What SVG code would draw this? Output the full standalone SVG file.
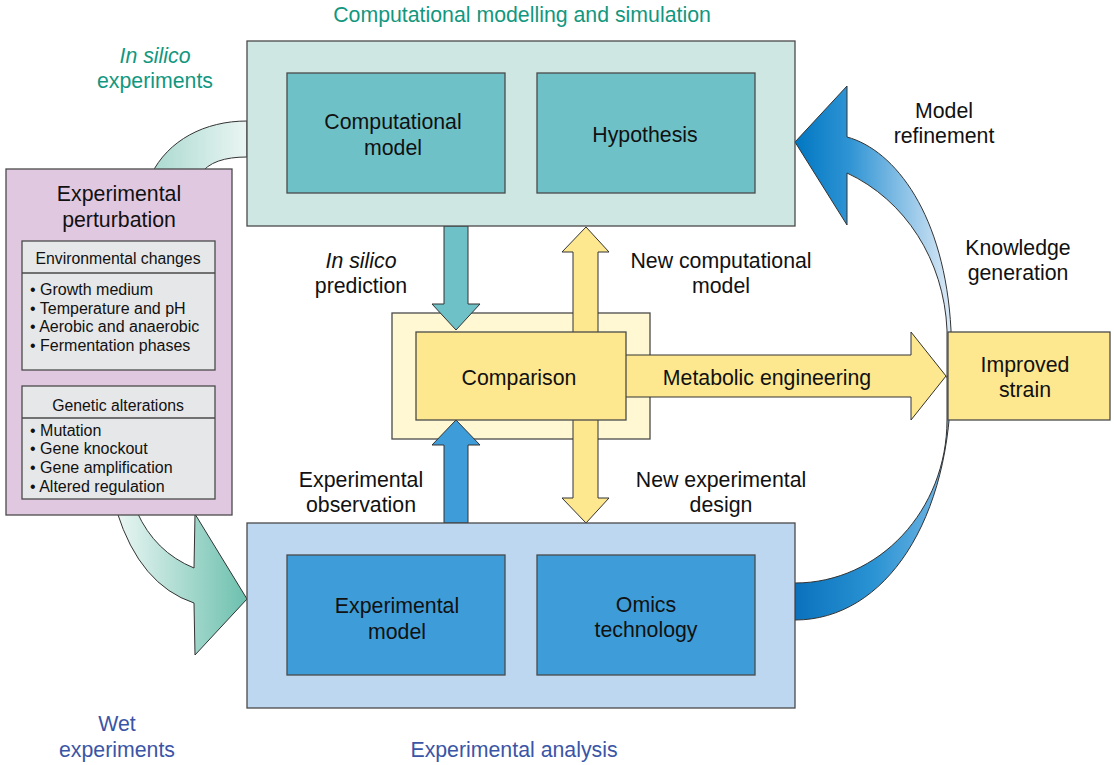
<svg xmlns="http://www.w3.org/2000/svg" width="1114" height="765" viewBox="0 0 1114 765">
<defs>
<style>
text{font-family:"Liberation Sans",Arial,Helvetica,sans-serif;fill:#111;text-anchor:middle}
.big{font-size:21.3px}
.sm{font-size:15.8px}
.bl{font-size:16px;text-anchor:start}
.teal{fill:#12977f}
.blue{fill:#3a55a6}
.it{font-style:italic}
.box{stroke:#4a4a4a;stroke-width:1.3}
.arr{stroke:#333;stroke-width:1;stroke-linejoin:miter}
</style>
<linearGradient id="gTL" x1="150" y1="0" x2="247" y2="0" gradientUnits="userSpaceOnUse">
<stop offset="0" stop-color="#a9d9cf"/><stop offset="1" stop-color="#eaf5f3"/>
</linearGradient>
<linearGradient id="gBL" x1="117" y1="0" x2="247" y2="0" gradientUnits="userSpaceOnUse">
<stop offset="0" stop-color="#eaf6f3"/><stop offset="1" stop-color="#6cc0ae"/>
</linearGradient>
<linearGradient id="gUp" x1="795" y1="0" x2="951" y2="0" gradientUnits="userSpaceOnUse">
<stop offset="0" stop-color="#0077c2"/><stop offset="0.35" stop-color="#2f94d4"/><stop offset="1" stop-color="#dbe9f6"/>
</linearGradient>
<linearGradient id="gLo" x1="795" y1="0" x2="951" y2="0" gradientUnits="userSpaceOnUse">
<stop offset="0" stop-color="#0a72bd"/><stop offset="0.5" stop-color="#2a93d3"/><stop offset="1" stop-color="#78b8e5"/>
</linearGradient>
</defs>
<rect width="1114" height="765" fill="#fff"/>

<g id="comparison-frame">
<rect class="box" x="392" y="313" width="258" height="126" fill="#fff8d3"/>
</g>

<g id="connectors">
<path class="arr" fill="url(#gTL)" d="M151,175 C168,140 205,121 247,121 L247,157 C225,157 208,162 200,175 Z"/>
<path class="arr" fill="url(#gBL)" d="M117,512 Q140,585 194,603 L195,655 L247,599 L195,514 L194,568 Q155,552 137,512 Z"/>
<path class="arr" fill="url(#gUp)" d="M795,142 L847,86 L847,137 C895,150 945,215 951,330 L951,378 L947,378 L947,330 C944,260 905,200 847,173 L847,225 Z"/>
<path class="arr" fill="url(#gLo)" d="M951,376 C952,520 885,620 795,620 L795,583 C879,583 947,510 947,420 L947,376 Z"/>
<path class="arr" fill="#6fc1c8" d="M444,226 L468,226 L468,304 L480,304 L456,330 L432,304 L444,304 Z"/>
<path class="arr" fill="#3e9dd8" d="M444,523 L468,523 L468,445 L480,445 L456,420 L432,445 L444,445 Z"/>
<path class="arr" fill="#fde88f" d="M586,227 L609,252 L598,252 L598,498 L609,498 L586,523 L562,498 L573,498 L573,252 L562,252 Z"/>
<path class="arr" fill="#fde88f" d="M620,355 L911,355 L911,332 L946,376 L911,420 L911,397 L620,397 Z"/>
</g>

<g id="computational-modelling">
<rect class="box" x="247" y="41" width="548" height="185" fill="#cfe7e3"/>
</g>
<g id="computational-model">
<rect class="box" x="287" y="73" width="218" height="120" fill="#6fc1c8"/>
<text class="big" x="393" y="128.5">Computational</text>
<text class="big" x="393" y="154.5">model</text>
</g>
<g id="hypothesis">
<rect class="box" x="537" y="73" width="218" height="120" fill="#6fc1c8"/>
<text class="big" x="645" y="141.5">Hypothesis</text>
</g>

<g id="experimental-analysis">
<rect class="box" x="247" y="523" width="548" height="185" fill="#bcd7ef"/>
</g>
<g id="experimental-model">
<rect class="box" x="287" y="555" width="218" height="120" fill="#3e9dd8"/>
<text class="big" x="397" y="612.5">Experimental</text>
<text class="big" x="397" y="638.5">model</text>
</g>
<g id="omics-technology">
<rect class="box" x="537" y="555" width="218" height="120" fill="#3e9dd8"/>
<text class="big" x="646" y="611.5">Omics</text>
<text class="big" x="646" y="636.5">technology</text>
</g>

<g id="comparison">
<rect class="box" x="416" y="332" width="210" height="88" fill="#fde88f"/>
<text class="big" x="519" y="384.5">Comparison</text>
</g>

<g id="improved-strain">
<rect class="box" x="948" y="332" width="162" height="88" fill="#fde88f"/>
<text class="big" x="1025" y="371.5">Improved</text>
<text class="big" x="1025" y="396.5">strain</text>
</g>

<g id="experimental-perturbation">
<rect class="box" x="6" y="169" width="226" height="346" fill="#e1c8e1"/>
<text class="big" x="119" y="200.5">Experimental</text>
<text class="big" x="119" y="226.5">perturbation</text>
</g>
<g id="environmental-changes">
<rect class="box" x="22" y="241" width="193" height="129" fill="#e6e7e8"/>
<line class="box" x1="22" y1="273" x2="215" y2="273"/>
<text class="sm" x="118" y="263.5">Environmental changes</text>
<text class="bl" x="30" y="294.5">• Growth medium</text>
<text class="bl" x="30" y="313.5">• Temperature and pH</text>
<text class="bl" x="30" y="332">• Aerobic and anaerobic</text>
<text class="bl" x="30" y="350.5">• Fermentation phases</text>
</g>
<g id="genetic-alterations">
<rect class="box" x="22" y="386" width="193" height="113" fill="#e6e7e8"/>
<line class="box" x1="22" y1="418" x2="215" y2="418"/>
<text class="sm" x="118" y="410.5">Genetic alterations</text>
<text class="bl" x="30" y="435.5">• Mutation</text>
<text class="bl" x="30" y="454">• Gene knockout</text>
<text class="bl" x="30" y="472.5">• Gene amplification</text>
<text class="bl" x="30" y="491.5">• Altered regulation</text>
</g>

<g id="labels">
<text class="big teal" x="522" y="21.5">Computational modelling and simulation</text>
<text class="big teal it" x="155" y="63">In silico</text>
<text class="big teal" x="155" y="88">experiments</text>
<text class="big it" x="361" y="267.5">In silico</text>
<text class="big" x="361" y="292.5">prediction</text>
<text class="big" x="721" y="267.5">New computational</text>
<text class="big" x="721" y="292.5">model</text>
<text class="big" x="767" y="384.5">Metabolic engineering</text>
<text class="big" x="944" y="117.5">Model</text>
<text class="big" x="944" y="142.5">refinement</text>
<text class="big" x="1018" y="254.5">Knowledge</text>
<text class="big" x="1018" y="279.5">generation</text>
<text class="big" x="361" y="486.5">Experimental</text>
<text class="big" x="361" y="511.5">observation</text>
<text class="big" x="721" y="486.5">New experimental</text>
<text class="big" x="721" y="511.5">design</text>
<text class="big blue" x="117" y="730.5">Wet</text>
<text class="big blue" x="117" y="756.5">experiments</text>
<text class="big blue" x="514" y="756.5">Experimental analysis</text>
</g>
</svg>
